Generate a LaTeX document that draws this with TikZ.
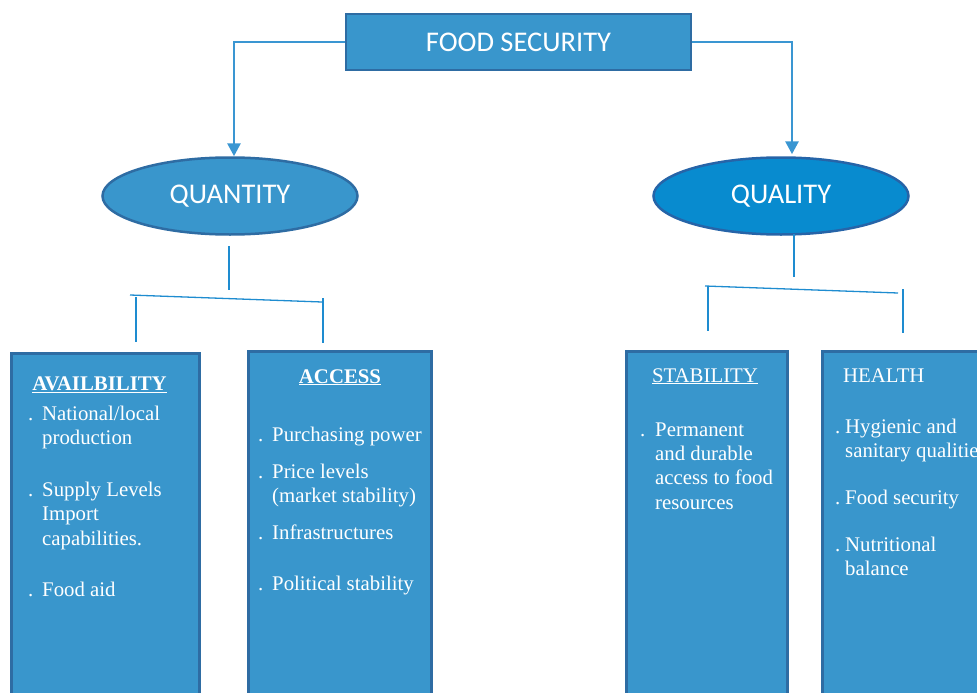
\documentclass[tikz,border=0pt]{standalone}
\usepackage{fontspec}
\setmainfont{Liberation Serif}
\newfontfamily\calibri{Carlito}
\usetikzlibrary{shapes.geometric,arrows.meta}

\definecolor{fsfill}{RGB}{57,150,204}
\definecolor{fsline}{RGB}{46,108,163}
\definecolor{qlfill}{RGB}{8,139,207}
\definecolor{qlline}{RGB}{38,100,168}
\definecolor{fsarrow}{RGB}{58,150,210}
\definecolor{fstwig}{RGB}{30,140,208}

\begin{document}
\begin{tikzpicture}[x=1pt,y=1pt,
  headbox/.style={rectangle,draw=fsline,fill=fsfill,line width=2.5pt,text=white,
    font=\calibri\fontsize{28.5}{30}\selectfont,inner sep=0pt},
  catbox/.style={rectangle,draw=fsline,fill=fsfill,line width=2.5pt,anchor=north west,
    minimum height=360pt,inner sep=0pt},
  cattext/.style={text=white,inner sep=0pt,font=\fontsize{20.8}{24.4}\selectfont},
  branch/.style={draw=fsarrow,line width=2.8pt,-{Triangle[width=13pt,length=13pt]}},
  twig/.style={draw=fstwig,line width=1.3pt}]

\useasboundingbox (0,0) rectangle (977,-693);

% Top and the two main headings
\node[headbox,minimum width=345pt,minimum height=56pt] (top) at (518.5,-42) {FOOD SECURITY};
\node[headbox,ellipse,minimum width=255pt,minimum height=77pt] (qty) at (230,-196) {QUANTITY};
\node[headbox,ellipse,fill=qlfill,draw=qlline,minimum width=255pt,minimum height=77pt] (qly) at (781,-196) {QUALITY};

\draw[branch] (top.west) -| ([xshift=4pt]qty.north);
\draw[branch] (top.east) -| ([xshift=11pt,yshift=2pt]qly.north);

% Define coordinates
\coordinate (qtystem) at (229,-246);
\coordinate (qtyhub)  at (229,-290);
\coordinate (qtybarl) at (130,-295);
\coordinate (qtybarr) at (322,-302);
\coordinate (avleg)   at (136,-297);
\coordinate (avfoot)  at (136,-342);
\coordinate (acleg)   at (323,-298);
\coordinate (acfoot)  at (323,-343);

\coordinate (qlystem) at (794,-234);
\coordinate (qlyhub)  at (794,-277);
\coordinate (qlybarl) at (705,-286);
\coordinate (qlybarr) at (898,-293);
\coordinate (stleg)   at (708,-286);
\coordinate (stfoot)  at (708,-331);
\coordinate (heleg)   at (903,-289);
\coordinate (hefoot)  at (903,-333);

% QUANTITY branches
\draw[twig] (qtystem) -- (qtyhub);
\draw[twig] (qtybarl) -- (qtybarr);
\draw[twig] (avleg) -- (avfoot);
\draw[twig] (acleg) -- (acfoot);

% QUALITY branches
\draw[twig] (qlystem) -- (qlyhub);
\draw[twig] (qlybarl) -- (qlybarr);
\draw[twig] (stleg) -- (stfoot);
\draw[twig] (heleg) -- (hefoot);

% Four columns
\node[catbox,minimum width=188pt] (avail)  at (10,-352) {};
\node[catbox,minimum width=183pt] (access) at (247,-350) {};
\node[catbox,minimum width=161pt] (stabil) at (625,-350) {};
\node[catbox,minimum width=175pt] (health) at (821,-350) {};

\node[cattext,anchor=base] (avtitle) at (99.5,-390) {\textbf{\underline{AVAILBILITY}}};
\node[cattext,anchor=base] (actitle) at (340,-383) {\textbf{\underline{ACCESS}}};
\node[cattext,anchor=base] (sttitle) at (705,-382) {\underline{STABILITY}};
\node[cattext,anchor=base west] (hetitle) at (843,-382) {HEALTH};

\node[cattext,anchor=base west] (avlist) at (28,-420) {\begin{tabular}[t]{@{}l@{}l@{}}
  \makebox[14pt][l]{.} & National/local\\
   & production\\[27.6pt]
  . & Supply Levels\\
   & Import\\
   & capabilities.\\[26.6pt]
  . & Food aid
\end{tabular}};

\node[cattext,anchor=base west] (aclist) at (258,-441) {\begin{tabular}[t]{@{}l@{}l@{}}
  \makebox[14pt][l]{.} & Purchasing power\\[12.6pt]
  . & Price levels\\
   & (market stability)\\[12.6pt]
  . & Infrastructures\\[26.6pt]
  . & Political stability
\end{tabular}};

\node[cattext,anchor=base west] (stlist) at (640,-436) {\begin{tabular}[t]{@{}l@{}l@{}}
  \makebox[15pt][l]{.} & Permanent\\
   & and durable\\
   & access to food\\
   & resources
\end{tabular}};

\node[cattext,anchor=base west] (helist) at (835,-433) {\begin{tabular}[t]{@{}l@{}l@{}}
  \makebox[10pt][l]{.} & Hygienic and\\
   & sanitary qualities\\[22.6pt]
  . & Food security\\[22.6pt]
  . & Nutritional\\
   & balance
\end{tabular}};

\end{tikzpicture}
\end{document}
